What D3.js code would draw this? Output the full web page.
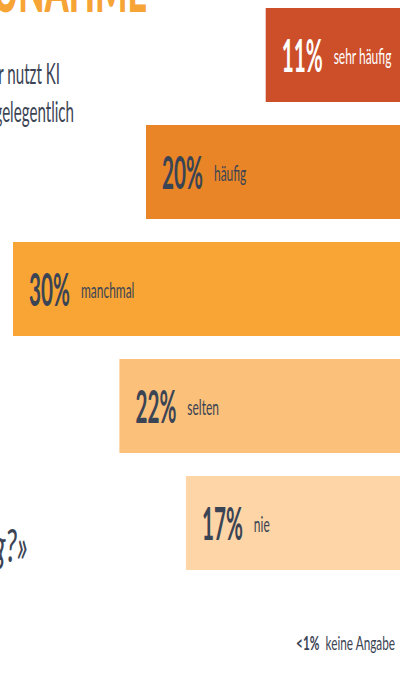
<!DOCTYPE html>
<html>
<head>
<meta charset="utf-8">
<script src="https://cdn.jsdelivr.net/npm/d3@7"></script>
<style>
  html,body{margin:0;padding:0;background:#fff;}
  svg{display:block;}
</style>
</head>
<body>
<svg id="chart"></svg>
<script>
// daten
const categories = ["sehr häufig", "häufig", "manchmal", "selten", "nie"];
const values = [11, 20, 30, 22, 17];
const valueLabels = ["11%", "20%", "30%", "22%", "17%"];
const barColors = ["#cc4f2a", "#e98526", "#f8a535", "#fbc07a", "#fdd5a7"];
const noAnswerLabel = ["<1%", "keine Angabe"];

const W = 400, H = 684;
const FONT = "Lato, 'Open Sans', sans-serif";
const DARK = "#3b4454";

const svg = d3.select("#chart").attr("width", W).attr("height", H);

// schmaler text: die grafik ist horizontal gestaucht
function squeezed(parent, x, y, sx, anchor) {
  return parent.append("text")
    .attr("transform", "translate(" + x + "," + y + ") scale(" + sx + ",1)")
    .attr("text-anchor", anchor || "start")
    .attr("font-family", FONT);
}

// x: balken laufen rechts aus dem bild
const RIGHT = 412;
const xScale = d3.scaleLinear().domain([0, 30]).range([RIGHT, 13]);
const yScale = d3.scaleBand().domain(categories).range([8, 570]).paddingInner(0.1966);

// titel (oben abgeschnitten)
squeezed(svg, 147, 12, 0.55, "end")
  .attr("font-weight", 900).attr("font-size", 62).attr("fill", "#f7a437")
  .text("ZUNAHME");

// linker text (abgeschnitten)
squeezed(svg, 60, 84, 0.54, "end").attr("font-size", 28).attr("fill", DARK).text("r nutzt KI");
squeezed(svg, 74, 122, 0.54, "end").attr("font-size", 28).attr("fill", DARK).text("gelegentlich");
squeezed(svg, 28, 562, 0.6, "end").attr("font-size", 46).attr("font-style", "italic")
  .attr("fill", DARK).text("g?»");

const rows = svg.selectAll("g.row")
  .data(categories.map((c, i) => ({cat: c, v: values[i], lab: valueLabels[i], col: barColors[i], i: i})))
  .join("g")
  .attr("class", "row");

rows.append("rect")
  .attr("x", d => xScale(d.v))
  .attr("y", d => yScale(d.cat))
  .attr("width", d => RIGHT - xScale(d.v))
  .attr("height", yScale.bandwidth())
  .attr("fill", d => d.col);

const PCT_SX = 0.45, CAT_SX = 0.57;
rows.each(function(d) {
  const g = d3.select(this);
  const cy = yScale(d.cat) + yScale.bandwidth() / 2;
  const x0 = xScale(d.v) + 16;
  const col = d.i === 0 ? "#ffffff" : DARK;
  const p = squeezed(g, x0, cy + 17, PCT_SX)
    .attr("font-weight", "bold").attr("font-size", 46).attr("fill", col)
    .text(d.lab);
  const pw = p.node().getComputedTextLength() * PCT_SX;
  squeezed(g, x0 + pw + 11, cy + 9, CAT_SX)
    .attr("font-size", 21).attr("fill", col)
    .text(d.cat);
});

// keine angabe
const na = squeezed(svg, 395, 650, 0.62, "end")
  .attr("font-size", 19).attr("fill", DARK);
na.append("tspan").attr("font-weight", "bold").text(noAnswerLabel[0]);
na.append("tspan").attr("dx", 10).text(noAnswerLabel[1]);
</script>
</body>
</html>
